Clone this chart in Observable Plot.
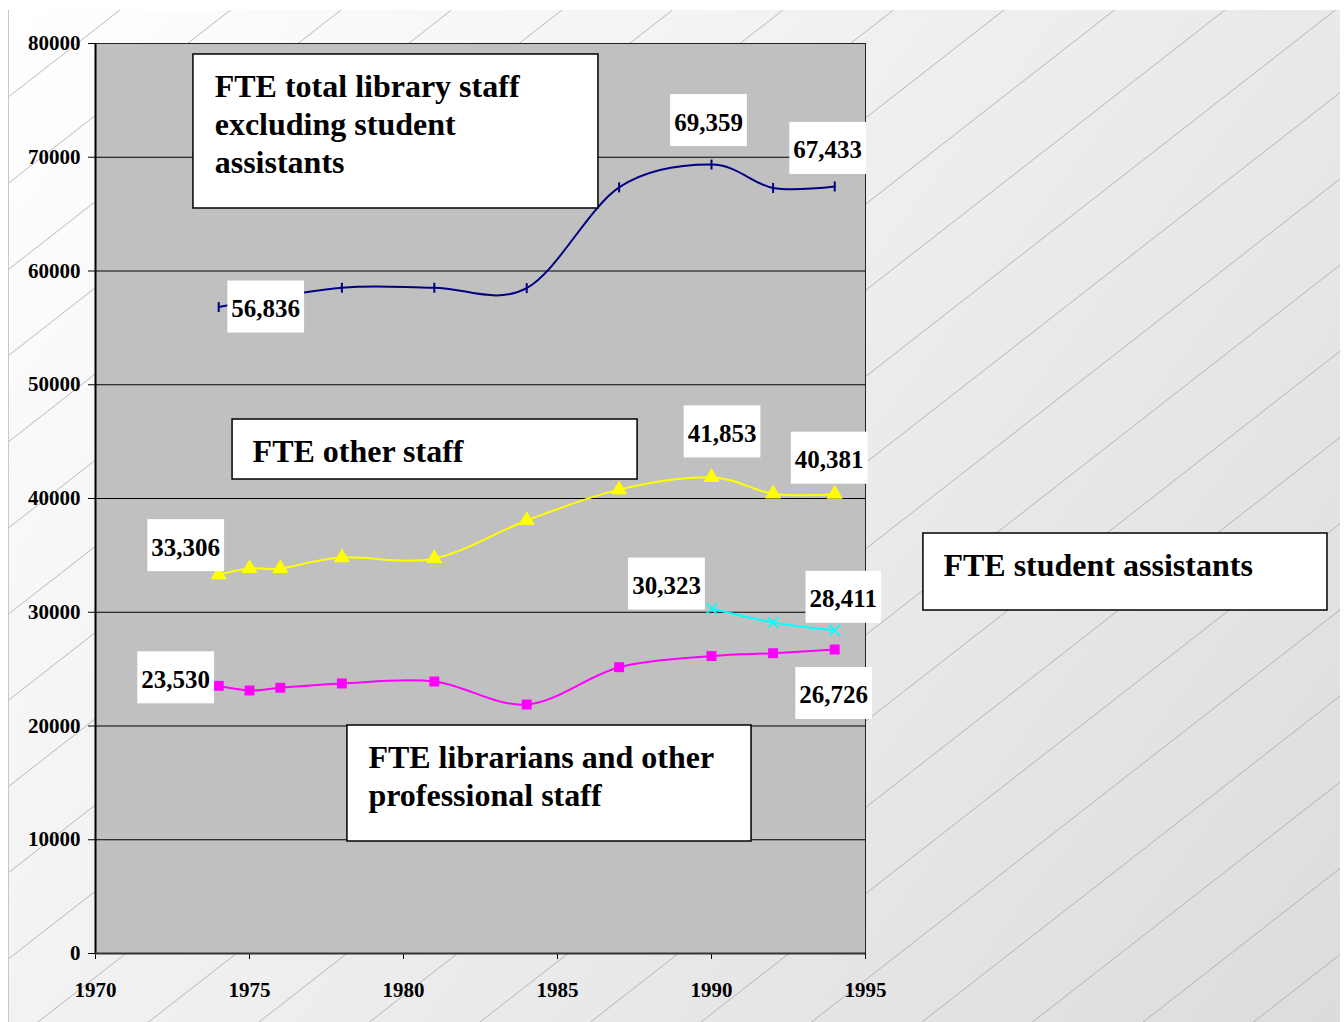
<!DOCTYPE html>
<html>
<head>
<meta charset="utf-8">
<script src="https://cdn.jsdelivr.net/npm/d3@7"></script>
<script src="https://cdn.jsdelivr.net/npm/@observablehq/plot@0.6"></script>
<style>
  html, body { margin: 0; padding: 0; background: #ffffff; }
  #chart svg { display: block; }
</style>
</head>
<body>
<div id="chart"></div>
<script>
// ---- Data ----
const totalYears = [1974, 1978, 1981, 1984, 1987, 1990, 1992, 1994];
const totalStaff = [56836, 58530, 58530, 58500, 67350, 69359, 67300, 67433];

const otherYears = [1974, 1975, 1976, 1978, 1981, 1984, 1987, 1990, 1992, 1994];
const otherStaff = [33306, 33850, 33850, 34810, 34730, 38070, 40780, 41853, 40420, 40381];

const librarianYears = [1974, 1975, 1976, 1978, 1981, 1984, 1987, 1990, 1992, 1994];
const librarianStaff = [23530, 23120, 23360, 23740, 23910, 21890, 25170, 26150, 26400, 26726];

const studentYears = [1990, 1992, 1994];
const studentStaff = [30323, 29100, 28411];

const xTicks = [1970, 1975, 1980, 1985, 1990, 1995];
const yTicks = [0, 10000, 20000, 30000, 40000, 50000, 60000, 70000, 80000];

// Series names and text
const seriesNames = {
  total: "FTE total library staff\nexcluding student\nassistants",
  other: "FTE other staff",
  student: "FTE student assistants",
  librarian: "FTE librarians and other\nprofessional staff"
};

// ---- Build tables from arrays ----
const toRows = (years, values) => years.map((year, i) => ({year, value: values[i]}));
const total = toRows(totalYears, totalStaff);
const other = toRows(otherYears, otherStaff);
const librarian = toRows(librarianYears, librarianStaff);
const student = toRows(studentYears, studentStaff);
const seriesRows = {total, other, librarian, student};

// ---- Layout config (annotation placement, not data) ----
const annotations = [
  {key: "total",     box: [1973.18, 1986.33, 79033, 65495], text: [1973.87, 77650]},
  {key: "other",     box: [1974.45, 1987.60, 46945, 41670], text: [1975.10, 45565]},
  {key: "student",   box: [1996.88, 2010.00, 36923, 30154], text: [1997.53, 35600]},
  {key: "librarian", box: [1978.18, 1991.30, 20044, 9846],  text: [1978.86, 18640]}
];

const valueLabels = [
  {key: "total", year: 1974, dx: 47, dy: 2},
  {key: "total", year: 1990, dx: -3, dy: -42},
  {key: "total", year: 1994, dx: -7, dy: -36},
  {key: "other", year: 1974, dx: -33, dy: -27},
  {key: "other", year: 1990, dx: 10.5, dy: -43.5},
  {key: "other", year: 1994, dx: -5.5, dy: -34},
  {key: "student", year: 1990, dx: -45, dy: -22.5},
  {key: "student", year: 1994, dx: 8.5, dy: -31},
  {key: "librarian", year: 1974, dx: -43, dy: -6},
  {key: "librarian", year: 1994, dx: -1, dy: 46}
];

const tickSymbol = {
  draw(context, size) {
    const r = Math.sqrt(size / Math.PI);
    context.moveTo(0, -r);
    context.lineTo(0, r);
  }
};

const serif = "'Liberation Serif', 'Times New Roman', Times, serif";
const fmt = d3.format(",");

const labelMarks = valueLabels.map(l => {
  const row = seriesRows[l.key].find(d => d.year === l.year);
  return Plot.text([row], {
    x: "year", y: "value", text: d => fmt(d.value),
    dx: l.dx, dy: l.dy,
    fontSize: 25, fontWeight: "bold", fontFamily: serif,
    fill: "black", textAnchor: "middle", lineAnchor: "middle",
    ariaDescription: "value-label"
  });
});

const svg = Plot.plot({
  width: 1344,
  height: 1022,
  marginLeft: 95,
  marginRight: 479,
  marginTop: 43,
  marginBottom: 69,
  style: {
    fontFamily: serif,
    fontWeight: "bold",
    fontSize: "21px",
    color: "black",
    background: "transparent",
    overflow: "visible"
  },
  x: {domain: [1970, 1995], ticks: xTicks, tickFormat: d => String(d), tickSize: 6, tickPadding: 23, label: null},
  y: {domain: [0, 80000], ticks: yTicks, tickFormat: d3.format("d"), tickSize: 7, tickPadding: 8, label: null},
  marks: [
    Plot.frame({fill: "#c0c0c0", stroke: "none"}),
    Plot.ruleY(yTicks.filter(t => t > 0), {stroke: "black", strokeWidth: 1}),
    Plot.frame({stroke: "#222", strokeWidth: 1, fill: "none"}),
    Plot.ruleX([1970], {stroke: "black", strokeWidth: 2}),
    Plot.ruleY([0], {stroke: "#333", strokeWidth: 2}),

    Plot.line(total, {x: "year", y: "value", stroke: "#000080", strokeWidth: 2, curve: "cardinal"}),
    Plot.line(other, {x: "year", y: "value", stroke: "#ffff00", strokeWidth: 2, curve: "cardinal"}),
    Plot.line(librarian, {x: "year", y: "value", stroke: "#ff00ff", strokeWidth: 2, curve: "cardinal"}),
    Plot.line(student, {x: "year", y: "value", stroke: "#00ffff", strokeWidth: 2, curve: "cardinal"}),

    Plot.dot(total, {x: "year", y: "value", symbol: tickSymbol, r: 5, stroke: "#000080", fill: "none", strokeWidth: 2}),
    Plot.dot(other, {x: "year", y: "value", symbol: "triangle", r: 6, fill: "#ffff00", stroke: "none"}),
    Plot.dot(librarian, {x: "year", y: "value", symbol: "square", r: 5.6, fill: "#ff00ff", stroke: "none"}),
    Plot.dot(student, {x: "year", y: "value", symbol: "times", r: 5, stroke: "#00ffff", fill: "none", strokeWidth: 1.6}),

    Plot.rect(annotations, {
      x1: d => d.box[0], x2: d => d.box[1], y1: d => d.box[2], y2: d => d.box[3],
      fill: "white", stroke: "black", strokeWidth: 1.5
    }),
    Plot.text(annotations, {
      x: d => d.text[0], y: d => d.text[1], text: d => seriesNames[d.key],
      textAnchor: "start", lineAnchor: "top", lineHeight: 38 / 32,
      fontSize: 32, fontWeight: "bold", fontFamily: serif, fill: "black"
    }),
    ...labelMarks
  ]
});

document.getElementById("chart").append(svg);

// ---- Styling: chart-area background (gradient + diagonal hatch) ----
const W = 1344, H = 1022;
const s = d3.select(svg);
const bg = s.insert("g", ":first-child").attr("aria-label", "background");
const defs = bg.append("defs");
const grad = defs.append("linearGradient").attr("id", "bgGrad")
  .attr("gradientUnits", "userSpaceOnUse")
  .attr("x1", 8).attr("y1", 10).attr("x2", 1340).attr("y2", 1022);
grad.append("stop").attr("offset", "0%").attr("stop-color", "#ffffff");
grad.append("stop").attr("offset", "100%").attr("stop-color", "#dcdcdc");
defs.append("clipPath").attr("id", "bgClip")
  .append("rect").attr("x", 8).attr("y", 10).attr("width", 1332).attr("height", H - 10);
bg.append("rect").attr("x", 8).attr("y", 10).attr("width", 1332).attr("height", H - 10)
  .attr("fill", "url(#bgGrad)");
const hatch = bg.append("g").attr("clip-path", "url(#bgClip)")
  .attr("stroke", "#a8a8a8").attr("stroke-width", 0.8);
const slope = 0.78, spacing = 110.5;
for (let k = -2; k < 30; k++) {
  const xt = 120 + k * spacing; // x at y = 10
  const xb = xt - (H + 20 - 10) / slope;
  hatch.append("line").attr("x1", xt).attr("y1", 10).attr("x2", xb).attr("y2", H + 20);
}
bg.append("line").attr("x1", 8.5).attr("y1", 10).attr("x2", 8.5).attr("y2", H)
  .attr("stroke", "#c8c8c8").attr("stroke-width", 1);

// ---- Styling: white boxes behind value labels ----
s.selectAll('g[aria-description="value-label"] text').each(function () {
  const b = this.getBBox();
  const r = document.createElementNS("http://www.w3.org/2000/svg", "rect");
  const t = this.getAttribute("transform");
  if (t) r.setAttribute("transform", t);
  r.setAttribute("x", b.x - 4);
  r.setAttribute("y", b.y - 14.5);
  r.setAttribute("width", b.width + 8);
  r.setAttribute("height", 52);
  r.setAttribute("fill", "white");
  this.parentNode.insertBefore(r, this);
});
</script>
</body>
</html>
